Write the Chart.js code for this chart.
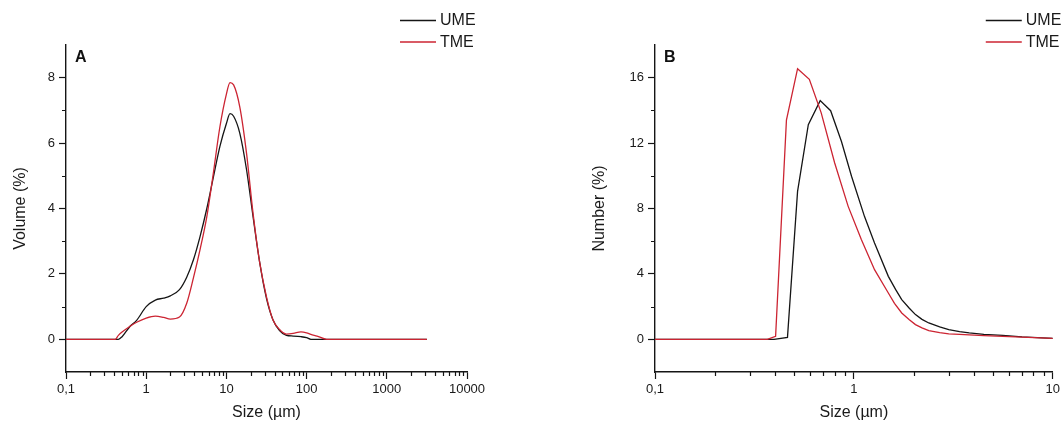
<!DOCTYPE html>
<html><head><meta charset="utf-8">
<script src="https://cdn.jsdelivr.net/npm/chart.js@4/dist/chart.umd.min.js"></script>
<style>
html,body{margin:0;padding:0;background:#fff;width:1063px;height:422px;overflow:hidden}
.box{position:absolute;top:0;height:422px}
#wa{left:0;width:530px}
#wb{left:530px;width:533px}
canvas{display:block}
</style></head><body>
<div class="box" id="wa"><canvas id="ca" width="530" height="422"></canvas></div>
<div class="box" id="wb"><canvas id="cb" width="533" height="422"></canvas></div>
<script>
// ---------- Panel A: Volume (%) vs size (µm) ----------
const sizesA = [0.1, 0.41, 0.45, 0.5, 0.63, 0.76, 1.0, 1.3, 1.65, 2.0, 2.6, 3.2, 3.9, 4.7, 5.7, 6.8, 8.3, 10, 11.1, 12.3, 14.7, 17.8, 21.5, 26, 31.6, 38, 46, 56, 68, 85, 100, 113, 135, 178, 3160];
const umeVolume = [0, 0, 0, 0.08, 0.4, 0.58, 1.0, 1.2, 1.26, 1.33, 1.52, 1.9, 2.45, 3.15, 4.0, 4.9, 5.9, 6.6, 6.9, 6.82, 6.3, 5.2, 3.75, 2.35, 1.25, 0.6, 0.27, 0.12, 0.1, 0.08, 0.05, 0, 0, 0, 0];
const tmeVolume = [0, 0, 0.12, 0.22, 0.4, 0.52, 0.65, 0.71, 0.67, 0.62, 0.68, 1.1, 1.9, 2.75, 3.75, 5.0, 6.5, 7.5, 7.85, 7.78, 7.1, 5.7, 3.85, 2.35, 1.3, 0.6, 0.3, 0.16, 0.18, 0.23, 0.2, 0.15, 0.1, 0, 0];
const xTicksA = [0.1, 1, 10, 100, 1000, 10000];
const xTickLabelsA = ['0,1', '1', '10', '100', '1000', '10000'];
const yTicksA = [0, 2, 4, 6, 8];
const yMinorA = [1, 3, 5, 7];

// ---------- Panel B: Number (%) vs size (µm) ----------
const sizesUmeB = [0.1, 0.397, 0.4636, 0.521, 0.59, 0.677, 0.764, 0.866, 0.973, 1.13, 1.27, 1.49, 1.62, 1.74, 1.9, 2.04, 2.2, 2.38, 2.7, 3.0, 3.4, 3.8, 4.5, 5.6, 7.0, 10];
const umeNumber = [0, 0, 0.12, 9.05, 13.13, 14.6, 13.98, 12.1, 9.97, 7.52, 5.89, 3.85, 3.05, 2.43, 1.9, 1.51, 1.22, 1.0, 0.76, 0.59, 0.47, 0.39, 0.3, 0.24, 0.15, 0.06];
const sizesTmeB = [0.1, 0.367, 0.404, 0.458, 0.521, 0.597, 0.685, 0.80, 0.936, 1.09, 1.27, 1.49, 1.6, 1.74, 1.9, 2.04, 2.2, 2.38, 2.7, 3.0, 3.4, 3.8, 4.5, 5.6, 7.0, 10];
const tmeNumber = [0, 0, 0.18, 13.4, 16.55, 15.9, 13.85, 10.8, 8.13, 6.1, 4.26, 2.83, 2.2, 1.61, 1.2, 0.9, 0.7, 0.53, 0.41, 0.33, 0.3, 0.27, 0.22, 0.18, 0.13, 0.06];
const xTicksB = [0.1, 1, 10];
const xTickLabelsB = ['0,1', '1', '10'];
const yTicksB = [0, 4, 8, 12, 16];
const yMinorB = [2, 6, 10, 14];

const seriesNames = ['UME', 'TME'];
const seriesColors = ['#151515', '#cc2432'];

const FONT = "'Liberation Sans', Arial, Helvetica, sans-serif";
Chart.defaults.font.family = FONT;
Chart.defaults.color = '#1a1a1a';

function logMinors(from, to) {
  const out = [];
  for (let d = from; d < to; d++) for (let k = 2; k <= 9; k++) out.push(k * Math.pow(10, d));
  return out;
}

const decorPlugin = {
  id: 'decor',
  afterDraw(chart, args, o) {
    const ctx = chart.ctx, ca = chart.chartArea;
    const xs = chart.scales.x, ys = chart.scales.y;
    ctx.save();
    ctx.strokeStyle = '#151515';
    ctx.lineWidth = 1.2;
    ctx.beginPath();
    for (const v of o.xMinor) {
      const px = Math.round(xs.getPixelForValue(v)) + 0.5;
      ctx.moveTo(px, ca.bottom); ctx.lineTo(px, ca.bottom + 4);
    }
    for (const v of o.yMinor) {
      const py = Math.round(ys.getPixelForValue(v)) + 0.5;
      ctx.moveTo(ca.left, py); ctx.lineTo(ca.left - 4, py);
    }
    ctx.stroke();
    // panel letter
    ctx.fillStyle = '#111';
    ctx.font = 'bold 16px ' + FONT;
    ctx.textBaseline = 'alphabetic';
    ctx.textAlign = 'left';
    ctx.fillText(o.letter, ca.left + 9, 62);
    // legend
    ctx.font = '16px ' + FONT;
    ctx.textBaseline = 'middle';
    const rows = [20.5, 42];
    chart.data.datasets.forEach((ds, i) => {
      const y = rows[i];
      ctx.strokeStyle = ds.borderColor;
      ctx.lineWidth = 1.3;
      ctx.beginPath();
      ctx.moveTo(ca.right - 67, y); ctx.lineTo(ca.right - 31, y);
      ctx.stroke();
      ctx.fillStyle = '#1a1a1a';
      ctx.fillText(ds.label, ca.right - 27, y + 0.5);
    });
    ctx.restore();
  }
};

function pts(xs, ys) { return xs.map((x, i) => ({x, y: ys[i]})); }

function makeChart(id, cfg) {
  const axisCommon = {
    border: {display: true, color: '#151515', width: 1.4},
    grid: {drawOnChartArea: false, drawTicks: true, tickLength: 7, tickWidth: 1.2, tickColor: '#151515'}
  };
  return new Chart(document.getElementById(id), {
    type: 'line',
    data: {
      datasets: [
        {label: seriesNames[0], data: cfg.ume, borderColor: seriesColors[0], borderWidth: 1.3, pointRadius: 0, fill: false, order: 1, tension: cfg.tension, cubicInterpolationMode: cfg.mono ? 'monotone' : 'default'},
        {label: seriesNames[1], data: cfg.tme, borderColor: seriesColors[1], borderWidth: 1.3, pointRadius: 0, fill: false, order: 0, tension: cfg.tension, cubicInterpolationMode: cfg.mono ? 'monotone' : 'default'}
      ]
    },
    options: {
      responsive: false,
      animation: false,
      events: [],
      layout: {padding: {top: 45, right: cfg.padRight, bottom: 0, left: 0}},
      plugins: {
        legend: {display: false},
        tooltip: {enabled: false},
        decor: {xMinor: cfg.xMinor, yMinor: cfg.yMinor, letter: cfg.letter}
      },
      scales: {
        x: Object.assign({}, axisCommon, {
          type: 'logarithmic', min: cfg.xMin, max: cfg.xMax,
          afterBuildTicks: s => { s.ticks = cfg.xTicks.map(v => ({value: v, major: true})); },
          afterFit: s => { s.height = 50; },
          ticks: {autoSkip: false, maxRotation: 0, minRotation: 0, padding: 3, font: {size: 13}, color: '#1a1a1a',
                  callback: (v, i) => cfg.xLabels[i]},
          title: {display: true, text: 'Size (µm)', font: {size: 16}, color: '#1a1a1a', padding: {top: 0, bottom: 0}}
        }),
        y: Object.assign({}, axisCommon, {
          type: 'linear', min: cfg.yMin, max: cfg.yMax,
          afterBuildTicks: s => { s.ticks = cfg.yTicks.map(v => ({value: v})); },
          afterFit: s => { s.width = cfg.yWidth; },
          ticks: {autoSkip: false, padding: 4, font: {size: 13}, color: '#1a1a1a', callback: v => String(v)},
          title: {display: true, text: cfg.yTitle, font: {size: 16}, color: '#1a1a1a', padding: {top: cfg.yTitlePad, bottom: 0}}
        })
      }
    },
    plugins: [decorPlugin]
  });
}

makeChart('ca', {
  ume: pts(sizesA, umeVolume), tme: pts(sizesA, tmeVolume), tension: 0.4, mono: true,
  xMin: 0.1, xMax: 10000, xTicks: xTicksA, xLabels: xTickLabelsA, xMinor: logMinors(-1, 4),
  yMin: -1, yMax: 9, yTicks: yTicksA, yMinor: yMinorA,
  yTitle: 'Volume (%)', yWidth: 66, yTitlePad: 10.5, padRight: 63, letter: 'A'
});
makeChart('cb', {
  ume: pts(sizesUmeB, umeNumber), tme: pts(sizesTmeB, tmeNumber), tension: 0, mono: false,
  xMin: 0.1, xMax: 10, xTicks: xTicksB, xLabels: xTickLabelsB, xMinor: logMinors(-1, 1),
  yMin: -2, yMax: 18, yTicks: yTicksB, yMinor: yMinorB,
  yTitle: 'Number (%)', yWidth: 125, yTitlePad: 60.4, padRight: 7.3, letter: 'B'
});
</script>
</body></html>
